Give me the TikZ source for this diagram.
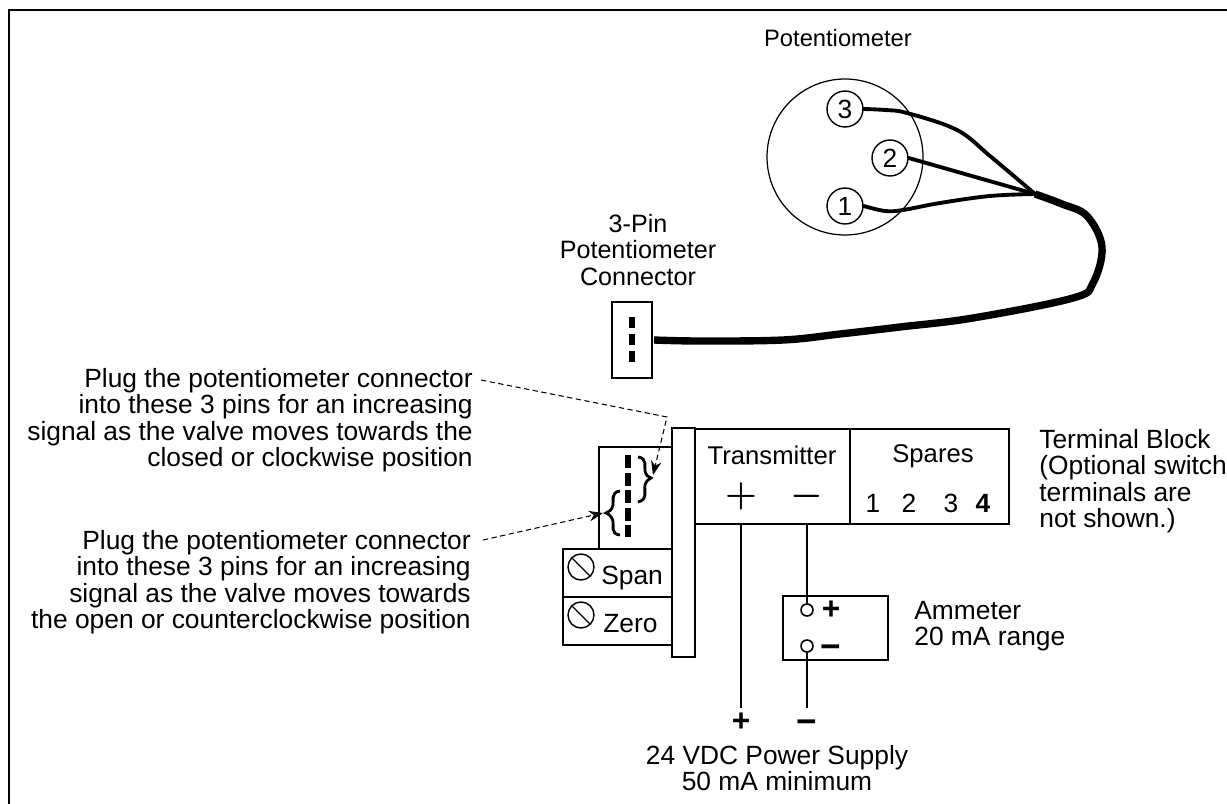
\documentclass[tikz,border=0pt]{standalone}
\usepackage{fontspec}
\setmainfont{Liberation Sans}
\usetikzlibrary{arrows.meta}

\tikzset{
	label/.style={inner sep=0pt, font=\fontsize{15}{15.1}\selectfont},
	sign/.style={inner sep=0pt, font=\fontsize{20}{20}\selectfont\boldmath},
	boldsign/.style={inner sep=0pt, font=\fontsize{18}{18}\selectfont\bfseries},
	boldminus/.style={inner sep=0pt, font=\fontsize{20}{20}\selectfont\bfseries},
	box/.style={draw, line width=1.2pt, inner sep=0pt},
	pin/.style={draw, circle, line width=0.8pt, minimum size=0.72cm, inner sep=0pt, font=\fontsize{15}{15.1}\selectfont},
	screw/.style={draw, circle, line width=0.8pt, minimum size=0.52cm, inner sep=0pt},
	post/.style={draw, circle, fill=white, line width=0.9pt, minimum size=0.24cm, inner sep=0pt},
	wire/.style={line width=1.2pt},
	lead/.style={line width=2.2pt, line cap=round},
	cable/.style={line width=4.2pt},
	leader/.style={line width=0.6pt, dash pattern=on 3pt off 2pt, -{Stealth[length=8pt, width=6pt]}},
	contacts/.style={line width=3.4pt, dash pattern=on 7.4pt off 2.6pt},
	brace/.style={line width=1.6pt},
}

\begin{document}
\begin{tikzpicture}[x=0.02cm, y=-0.02cm]
	\useasboundingbox (0,0) rectangle (1227,804);

	\coordinate (corner) at (9,10);
	\coordinate (topend) at (1227,10);
	\coordinate (leftend) at (9,804);
	\draw [line width=1.5pt] (topend) -- (corner) -- (leftend);

	% potentiometer
	\node [label, font=\fontsize{13.5}{15.1}\selectfont] (title) at (838,38) {Potentiometer};
	\node [draw, circle, line width=0.7pt, minimum size=3.12cm, inner sep=0pt] (pot) at (845,157) {};
	\node [pin] (pin3) at (845,109) {3};
	\node [pin] (pin2) at (890,158) {2};
	\node [pin] (pin1) at (845,206) {1};
	\coordinate (join) at (1035,194);

	\draw [lead] plot [smooth, tension=0.6] coordinates {(pin3.east) (885,110) (907,113) (957,130) (990,156) (join)};
	\draw [lead] (pin2.east) -- (join);
	\draw [lead] plot [smooth, tension=0.6] coordinates {(pin1.east) (885,211) (903,210) (940,203) (990,196) (join)};

	% connector and cable
	\node [label, align=center, font=\fontsize{14.3}{15.1}\selectfont] (pluglabel) at (638,250) {3-Pin\\Potentiometer\\Connector};
	\node [box, minimum width=0.8cm, minimum height=1.52cm] (plug) at (632,340) {};
	\draw [contacts, dash pattern=on 6.2pt off 3.4pt] (632,317) -- (632,363);
	\coordinate (cablestart) at (654,340);
	\draw [cable] plot [smooth, tension=0.6] coordinates {(join) (1062,204) (1087,216) (1102,247) (1093,283) (1073,298) (973,318) (900,327) (840,334) (783,340) (700,341) (cablestart)};

	% pin header, trimmers and bar
	\node [draw, line width=0.7pt, minimum width=1.46cm, minimum height=2.04cm, inner sep=0pt] (header) at (635.5,498) {};
	\node [box, minimum width=2.18cm, minimum height=0.96cm] (spanbox) at (617.5,573) {};
	\node [box, minimum width=2.18cm, minimum height=0.96cm] (zerobox) at (617.5,621) {};
	\node [box, fill=white, minimum width=0.46cm, minimum height=4.58cm] (bar) at (683.5,542.5) {};

	\draw [contacts] (628,455) -- (628,537);
	\draw [brace] (638,457) .. controls (648,458) and (644,468) .. (645,471) .. controls (646,476) and (649,477) .. (651,478) .. controls (649,479) and (646,481) .. (645,485) .. controls (644,490) and (648,500) .. (638,502);
	\draw [brace] (620,491) .. controls (610,492) and (614,502) .. (613,505) .. controls (612,510) and (609,512) .. (606,513) .. controls (609,514) and (612,517) .. (613,521) .. controls (614,526) and (610,534) .. (620,535);

	\node [screw] (spanscrew) at (581,567) {};
	\node [screw] (zeroscrew) at (581,615) {};
	\draw [line width=0.8pt] (spanscrew.135) -- (spanscrew.-45);
	\draw [line width=0.8pt] (zeroscrew.135) -- (zeroscrew.-45);
	\node [label, anchor=west] (span) at (601,578) {Span};
	\node [label, anchor=west] (zero) at (603,624) {Zero};

	% notes on the left
	\node [label, align=right, anchor=east] (closednote) at (473,420) {Plug the potentiometer connector\\into these 3 pins for an increasing\\signal as the valve moves towards the\\closed or clockwise position};
	\node [label, align=right, anchor=east] (opennote) at (471,582) {Plug the potentiometer connector\\into these 3 pins for an increasing\\signal as the valve moves towards\\the open or counterclockwise position};
	\coordinate (closedstart) at (481,380);
	\coordinate (closedbend) at (667,417);
	\coordinate (closedtip) at (653,475);
	\coordinate (openstart) at (483,540);
	\coordinate (opentip) at (603,513);
	\draw [leader] (closedstart) -- (closedbend) -- (closedtip);
	\draw [leader] (openstart) -- (opentip);

	% terminal block
	\node [box, minimum width=3.1cm, minimum height=1.9cm] (transmitter) at (772.5,476.5) {};
	\node [box, minimum width=3.18cm, minimum height=1.9cm] (spares) at (929.5,476.5) {};
	\node [label, font=\fontsize{14.6}{15.1}\selectfont] (transmitterlabel) at (772,455) {Transmitter};
	\node [label, font=\fontsize{14.6}{15.1}\selectfont] (spareslabel) at (933,456) {Spares};
	\node [sign] (plus) at (741,496) {$+$};
	\node [sign] (minus) at (807,496) {$-$};
	\node [label] (one) at (873,503) {1};
	\node [label] (two) at (909,503) {2};
	\node [label] (three) at (951,503) {3};
	\node [label] (four) at (983,503) {\textbf{4}};
	\node [label, align=left, anchor=west] (blocklabel) at (1039,481) {Terminal Block\\(Optional switch\\terminals are\\not shown.)};

	% ammeter and supply
	\node [box, minimum width=2.1cm, minimum height=1.28cm] (ammeter) at (835.5,628) {};
	\node [post] (ampos) at (807,610) {};
	\node [post] (amneg) at (807,646) {};
	\node [boldsign] (amplus) at (831,610) {+};
	\node [boldminus] (amminus) at (831,652) {−};
	\node [label, align=left, anchor=west] (amlabel) at (914,626) {Ammeter\\20 mA range};
	\node [boldsign] (supplyplus) at (741,722) {+};
	\node [boldminus] (supplyminus) at (807,727) {−};
	\node [label, align=center] (supplylabel) at (777,768) {24 VDC Power Supply\\50 mA minimum};
	\coordinate (plusend) at (741,708);
	\coordinate (minusend) at (807,708);

	\draw [wire] (plus |- transmitter.south) -- (plusend);
	\draw [wire] (minus |- transmitter.south) -- (ampos);
	\draw [wire] (amneg) -- (minusend);
\end{tikzpicture}
\end{document}
